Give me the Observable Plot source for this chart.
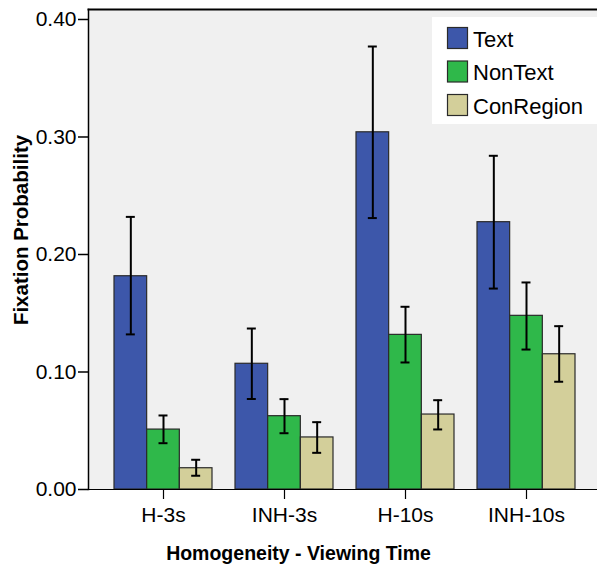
<!DOCTYPE html>
<html><head><meta charset="utf-8">
<script src="https://cdn.jsdelivr.net/npm/d3@7"></script>
<script src="https://cdn.jsdelivr.net/npm/@observablehq/plot@0.6"></script>
<style>
body{margin:0;overflow:hidden;background:#fff}
#wrap{position:relative;width:597px;height:565px}
</style></head><body><div id="wrap"></div>
<script>
const groups = ["H-3s", "INH-3s", "H-10s", "INH-10s"];
const series = ["Text", "NonText", "ConRegion"];
const colors = ["#3d57aa", "#2fb84a", "#d3cf9a"];
const textMean = [0.1815, 0.107, 0.304, 0.2275];
const textLow = [0.132, 0.077, 0.231, 0.171];
const textHigh = [0.232, 0.137, 0.377, 0.284];
const nonTextMean = [0.051, 0.0624, 0.1316, 0.1478];
const nonTextLow = [0.0394, 0.0479, 0.1081, 0.1191];
const nonTextHigh = [0.063, 0.0769, 0.1555, 0.1762];
const conMean = [0.0181, 0.0443, 0.0638, 0.1151];
const conLow = [0.0117, 0.0312, 0.0511, 0.0917];
const conHigh = [0.0253, 0.0573, 0.076, 0.139];
const yTicks = [0, 0.1, 0.2, 0.3, 0.4];
const xTitle = "Homogeneity - Viewing Time";
const yTitle = "Fixation Probability";

const means = [textMean, nonTextMean, conMean];
const lows = [textLow, nonTextLow, conLow];
const highs = [textHigh, nonTextHigh, conHigh];
const rows = [];
series.forEach((s, k) => groups.forEach((g, i) => rows.push({group: g, series: s, k, mean: means[k][i], low: lows[k][i], high: highs[k][i]})));

const W = 597, H = 565, mL = 88, mT = 9, mB = 76, mR = 0;
const pIn = 0.19, pOut = 0.198, align = 0.54;
const step = (W - mL - mR) / (groups.length - pIn + 2 * pOut);
const bw = step * (1 - pIn);
const sub = bw / 3;
const capW = 9;

const marks = [Plot.frame({fill: "#f0f0f0", stroke: null})];
series.forEach((s, k) => {
  const data = rows.filter(d => d.k === k);
  marks.push(Plot.barY(data, {x: "group", y: "mean", fill: colors[k], stroke: "#2a2a2a", strokeWidth: 1.2,
    insetLeft: k * sub, insetRight: (2 - k) * sub}));
});
series.forEach((s, k) => {
  const data = rows.filter(d => d.k === k);
  const off = (k - 1) * sub;
  const il = k * sub + sub / 2 - capW / 2;
  const ir = bw - il - capW;
  marks.push(Plot.ruleX(data, {x: "group", y1: "low", y2: "high", dx: off, stroke: "#000", strokeWidth: 2}));
  marks.push(Plot.tickY(data, {x: "group", y: "low", insetLeft: il, insetRight: ir, stroke: "#000", strokeWidth: 2}));
  marks.push(Plot.tickY(data, {x: "group", y: "high", insetLeft: il, insetRight: ir, stroke: "#000", strokeWidth: 2}));
});
marks.push(Plot.frame({anchor: "left", stroke: "#000", strokeWidth: 1.5}));
marks.push(Plot.frame({anchor: "top", stroke: "#000", strokeWidth: 2}));
marks.push(Plot.ruleY([0], {stroke: "#000", strokeWidth: 1.2}));
marks.push(Plot.axisY(yTicks, {tickFormat: d3.format(".2f"), tickSize: 10, tickPadding: 2, label: null, stroke: "#000", strokeWidth: 1.5}));
marks.push(Plot.axisX({tickSize: 10, tickPadding: 8, label: null, stroke: "#000", strokeWidth: 1.2}));

const plot = Plot.plot({
  width: W, height: H,
  marginLeft: mL, marginRight: mR, marginTop: mT, marginBottom: mB,
  style: {fontFamily: "Liberation Sans, Arial, sans-serif", fontSize: "21px", color: "#000", background: "#fff"},
  x: {domain: groups, paddingInner: pIn, paddingOuter: pOut, align},
  y: {domain: [0, 0.4085]},
  marks
});
document.getElementById("wrap").appendChild(plot);

const svg = d3.select(plot);
// axis titles
svg.append("text").attr("x", 298.5).attr("y", 560).attr("text-anchor", "middle")
  .attr("font-weight", "bold").attr("font-size", 19.5).attr("fill", "#000").text(xTitle);
svg.append("text").attr("transform", "translate(28,230) rotate(-90)").attr("text-anchor", "middle")
  .attr("font-weight", "bold").attr("font-size", 20.5).attr("fill", "#000").text(yTitle);
// legend
const lg = svg.append("g");
lg.append("rect").attr("x", 432).attr("y", 17).attr("width", 170).attr("height", 107).attr("fill", "#fff");
series.forEach((s, k) => {
  const y0 = 27 + k * 33.5;
  lg.append("rect").attr("x", 447.5).attr("y", y0 + 0.5).attr("width", 20).attr("height", 21)
    .attr("fill", colors[k]).attr("stroke", "#2a2a2a").attr("stroke-width", 1.2);
  lg.append("text").attr("x", 473).attr("y", y0 + 19.5).attr("text-anchor", "start")
    .attr("font-size", 22).attr("fill", "#000").text(s);
});
</script></body></html>
